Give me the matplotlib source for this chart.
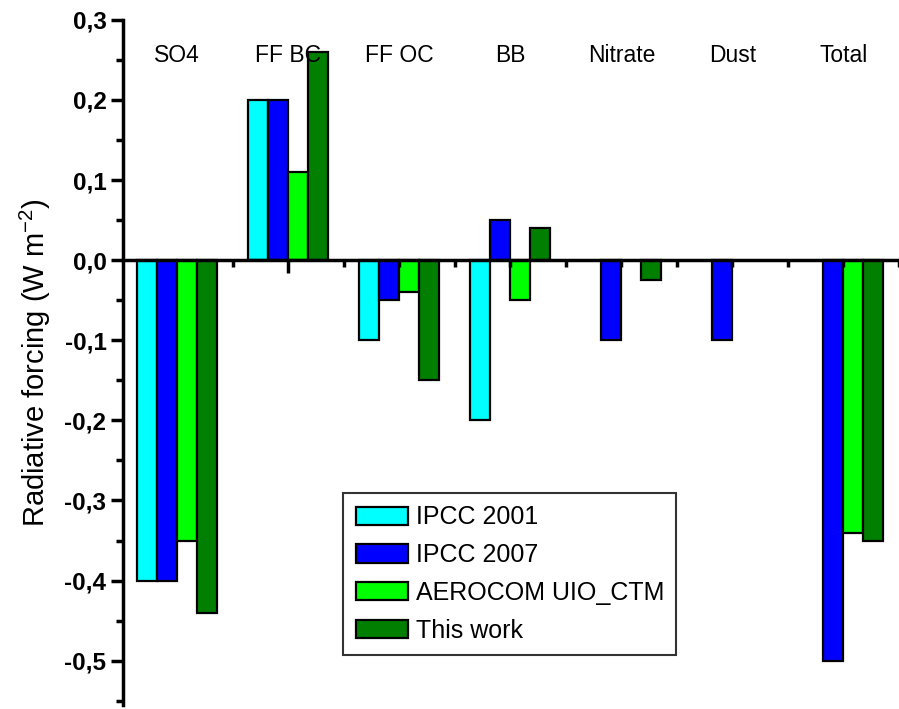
import numpy as np
import matplotlib.pyplot as plt
from matplotlib.ticker import FuncFormatter, MultipleLocator

plt.rcParams['font.family'] = ['Liberation Sans', 'DejaVu Sans']

# data
categories = ['SO4', 'FF BC', 'FF OC', 'BB', 'Nitrate', 'Dust', 'Total']
series_names = ['IPCC 2001', 'IPCC 2007', 'AEROCOM UIO_CTM', 'This work']
ipcc2001 = [-0.40, 0.20, -0.10, -0.20, np.nan, np.nan, np.nan]
ipcc2007 = [-0.40, 0.20, -0.05, 0.05, -0.10, -0.10, -0.50]
aerocom = [-0.35, 0.11, -0.04, -0.05, np.nan, np.nan, -0.34]
this_work = [-0.44, 0.26, -0.15, 0.04, -0.025, np.nan, -0.35]
colors = ['#00ffff', '#0000ff', '#00ff00', '#007f00']

fig = plt.figure(figsize=(8.99, 7.09), dpi=100)
ax = fig.add_axes([0.137, 0.006, 0.863, 0.966])

x = np.arange(len(categories))
w = 0.18
offsets = [-1.5 * w, -0.5 * w, 0.5 * w, 1.5 * w]
for vals, off, c, name in zip([ipcc2001, ipcc2007, aerocom, this_work], offsets, colors, series_names):
    ax.bar(x + off, vals, w, color=c, edgecolor='black', linewidth=1.6, label=name)

ax.set_xlim(-0.485, 6.48)
ax.set_ylim(-0.555, 0.3)

# category names along the top
for xi, name in zip(x, categories):
    ax.text(xi, 0.256, name, ha='center', va='center', fontsize=16.5)

ax.spines['top'].set_visible(False)
ax.spines['right'].set_visible(False)
ax.spines['bottom'].set_position(('data', 0))
ax.spines['left'].set_linewidth(2.5)
ax.spines['bottom'].set_linewidth(2.5)

ax.yaxis.set_major_locator(MultipleLocator(0.1))
ax.yaxis.set_minor_locator(MultipleLocator(0.05))
ax.yaxis.set_major_formatter(FuncFormatter(lambda v, p: f'{v:.1f}'.replace('.', ',')))
ax.tick_params(axis='y', which='major', direction='out', length=9, width=2.5,
               labelsize=17.5, pad=3)
ax.tick_params(axis='y', which='minor', direction='out', length=5, width=2.5)
for lab in ax.get_yticklabels():
    lab.set_fontweight('bold')

ax.set_xticks([1])
ax.set_xticks(np.arange(0.5, 6.6, 0.5), minor=True)
ax.tick_params(axis='x', which='major', direction='out', length=9, width=2.5, labelbottom=False)
ax.tick_params(axis='x', which='minor', direction='out', length=5, width=2.5)

ax.set_ylabel('Radiative forcing (W m$^{\\mathregular{-2}}$)', fontsize=21, labelpad=8)

leg = ax.legend(loc='upper left', bbox_to_anchor=(343 / 899, 1 - 493 / 709),
                bbox_transform=fig.transFigure, fontsize=18, frameon=True,
                fancybox=False, edgecolor='black', handlelength=2.1, handleheight=0.75,
                handletextpad=0.3, labelspacing=0.55, borderpad=0.5, borderaxespad=0)
leg.get_frame().set_linewidth(1.5)

fig.savefig('out.png', dpi=100)
